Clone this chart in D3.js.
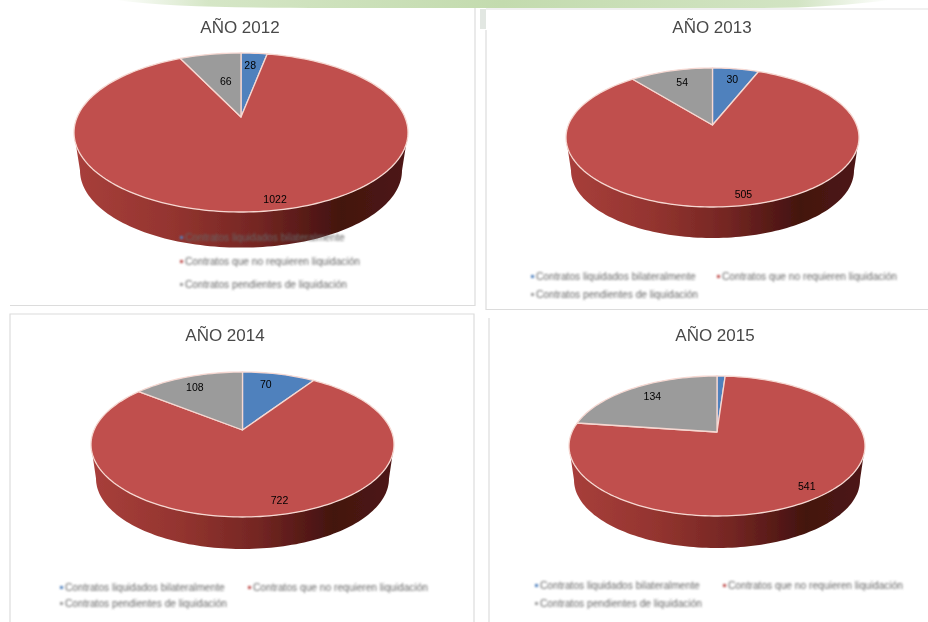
<!DOCTYPE html>
<html>
<head>
<meta charset="utf-8">
<script src="https://cdn.jsdelivr.net/npm/d3@7"></script>
<style>
    html, body { margin: 0; padding: 0; background: #fff; overflow: hidden; }
    text { font-family: "Liberation Sans", Arial, sans-serif; }
</style>
</head>
<body>
<div id="charts"></div>
<script>
const years = ["AÑO 2012", "AÑO 2013", "AÑO 2014", "AÑO 2015"];
const categories = [
    "Contratos liquidados bilateralmente",
    "Contratos que no requieren liquidación",
    "Contratos pendientes de liquidación"
];
const liquidados = [28, 30, 70, 6];
const noRequieren = [1022, 505, 722, 541];
const pendientes = [66, 54, 108, 134];

const colors = ["#4f81bd", "#c0504d", "#9b9b9b"];

// where each pie sits on the page
const layouts = [
    { cx: 241, cy: 132.5, rx: 167, ry: 79.5, apexY: 117, depth: 38, inset: 6, titleX: 240, titleY: 33 },
    { cx: 712.5, cy: 137.5, rx: 146.5, ry: 69.5, apexY: 125, depth: 33, inset: 5, titleX: 712, titleY: 33 },
    { cx: 242.5, cy: 444.5, rx: 151.5, ry: 72.5, apexY: 430, depth: 34, inset: 5, titleX: 225, titleY: 341 },
    { cx: 717, cy: 446, rx: 148, ry: 70, apexY: 432, depth: 34, inset: 5, titleX: 715, titleY: 341 }
];
const labelFractions = [
    [0.85, 0.9, 0.62],
    [0.85, 0.85, 0.8],
    [0.72, 0.85, 0.8],
    [0.8, 0.92, 0.8]
];
// Excel does not put the labels quite on the mid angle
const labelNudges = [
    [[-2, 0], [18, -4], [4, -3]],
    [[0, 0], [15, -2], [3, -2]],
    [[-3, -9], [20, -5], [-3, -3]],
    [[0, 0], [14, -13], [4, -4]]
];
const legendSpots = [
    [[180, 239], [180, 263], [180, 286]],
    [[531, 278], [717, 278], [531, 296]],
    [[60, 589], [248, 589], [60, 605]],
    [[535, 587], [723, 587], [535, 605]]
];

const width = 928;
const height = 622;

let svg = d3
    .select("#charts")
    .append("svg")
    .attr("width", width)
    .attr("height", height)
    .style("display", "block");

let defs = svg.append("defs");

defs.append("filter").attr("id", "soft")
    .append("feGaussianBlur").attr("stdDeviation", 0.55);
defs.append("filter").attr("id", "softer")
    .attr("x", "-5%").attr("width", "110%")
    .append("feGaussianBlur").attr("stdDeviation", 0.8);

let sideGradient = defs.append("linearGradient").attr("id", "side");
[[0, "#a83f3b"], [0.3, "#93342f"], [0.55, "#742623"], [0.8, "#43120f"], [1, "#4e1815"]]
    .forEach(s => sideGradient.append("stop").attr("offset", s[0]).attr("stop-color", s[1]));

let bannerGradient = defs.append("linearGradient").attr("id", "banner");
[[0, "#ffffff"], [0.12, "#d5e6c6"], [0.5, "#c3dbae"], [0.88, "#d2e4c3"], [1, "#ffffff"]]
    .forEach(s => bannerGradient.append("stop").attr("offset", s[0]).attr("stop-color", s[1]));

// green strip of the slide and the frames around the four charts
svg.append("path")
    .attr("d", "M115,0 C170,7 240,8 330,8 L760,8 C810,8 850,5 890,0 Z")
    .attr("fill", "url(#banner)");

let frames = svg.append("g")
    .attr("fill", "none")
    .attr("stroke", "#dcdcdc")
    .attr("stroke-width", 1.2)
    .attr("filter", "url(#soft)");
frames.append("path").attr("d", "M10,305.5 H475 V8");
frames.append("path").attr("d", "M486,30 V309.5 H928");
frames.append("path").attr("d", "M486,9 H928").attr("stroke", "#e2e2e2");
frames.append("path").attr("d", "M10,622 V314 H474 V622");
frames.append("path").attr("d", "M489,622 V318");
svg.append("rect").attr("x", 480).attr("y", 9).attr("width", 6).attr("height", 20)
    .attr("fill", "#e2e7e2").attr("filter", "url(#soft)");

const pie = d3.pie().sort(null).value(d => d);

const sweep = function(from, to) {
    let n = Math.max(2, Math.ceil(Math.abs(to - from) / 0.03));
    return d3.range(n + 1).map(i => from + (to - from) * i / n);
};

years.forEach(function(year, i) {
    let box = layouts[i];
    let values = [liquidados[i], noRequieren[i], pendientes[i]];
    let total = d3.sum(values);
    let g = svg.append("g").attr("class", "pie");

    let onRim = t => [box.cx + box.rx * Math.sin(t), box.cy - box.ry * Math.cos(t)];
    let onBase = t => [
        box.cx + (box.rx - box.inset) * Math.sin(t),
        box.cy + box.depth - (box.ry - box.inset * 0.4) * Math.cos(t)
    ];
    let line = d3.line();

    // the wall of the disc, front half only
    let front = sweep(Math.PI / 2, Math.PI * 1.5);
    g.append("path")
        .attr("d", line(front.map(onRim).concat(front.slice().reverse().map(onBase))) + "Z")
        .attr("fill", "url(#side)")
        .attr("filter", "url(#soft)");

    let slices = pie(values);

    g.selectAll("path.slice")
        .data(slices)
        .join("path")
        .attr("class", "slice")
        .attr("d", d => line([[box.cx, box.apexY]].concat(sweep(d.startAngle, d.endAngle).map(onRim))) + "Z")
        .attr("fill", (d, j) => colors[j])
        .attr("stroke", "#f6d8d2")
        .attr("stroke-width", 1.3)
        .attr("stroke-linejoin", "round")
        .attr("filter", "url(#soft)");

    let mid = d => (d.startAngle + d.endAngle) / 2;

    g.selectAll("text.value")
        .data(slices.filter(d => d.value / total >= 0.01))
        .join("text")
        .attr("class", "value")
        .attr("x", d => box.cx + box.rx * labelFractions[i][d.index] * Math.sin(mid(d)) + labelNudges[i][d.index][0])
        .attr("y", d => box.cy - box.ry * labelFractions[i][d.index] * Math.cos(mid(d)) + 3.5 + labelNudges[i][d.index][1])
        .attr("text-anchor", "middle")
        .attr("font-size", "10.5px")
        .attr("fill", "#000")
        .attr("filter", "url(#soft)")
        .text(d => d.value);

    g.append("text")
        .attr("class", "title")
        .attr("x", box.titleX)
        .attr("y", box.titleY)
        .attr("text-anchor", "middle")
        .attr("font-size", "17px")
        .attr("fill", "#484848")
        .attr("filter", "url(#soft)")
        .text(year);

    let legend = g.selectAll("g.legend")
        .data(categories)
        .join("g")
        .attr("class", "legend")
        .attr("transform", (d, j) => "translate(" + legendSpots[i][j][0] + "," + legendSpots[i][j][1] + ")")
        .attr("filter", "url(#softer)");
    legend.append("rect")
        .attr("x", 0).attr("y", -3)
        .attr("width", 3).attr("height", 3)
        .attr("fill", (d, j) => colors[j]);
    legend.append("text")
        .attr("x", 5)
        .attr("y", 0)
        .attr("dy", "0.2em")
        .attr("font-size", "10.2px")
        .attr("fill", "#666")
        .text(d => d);
});
</script>
</body>
</html>
